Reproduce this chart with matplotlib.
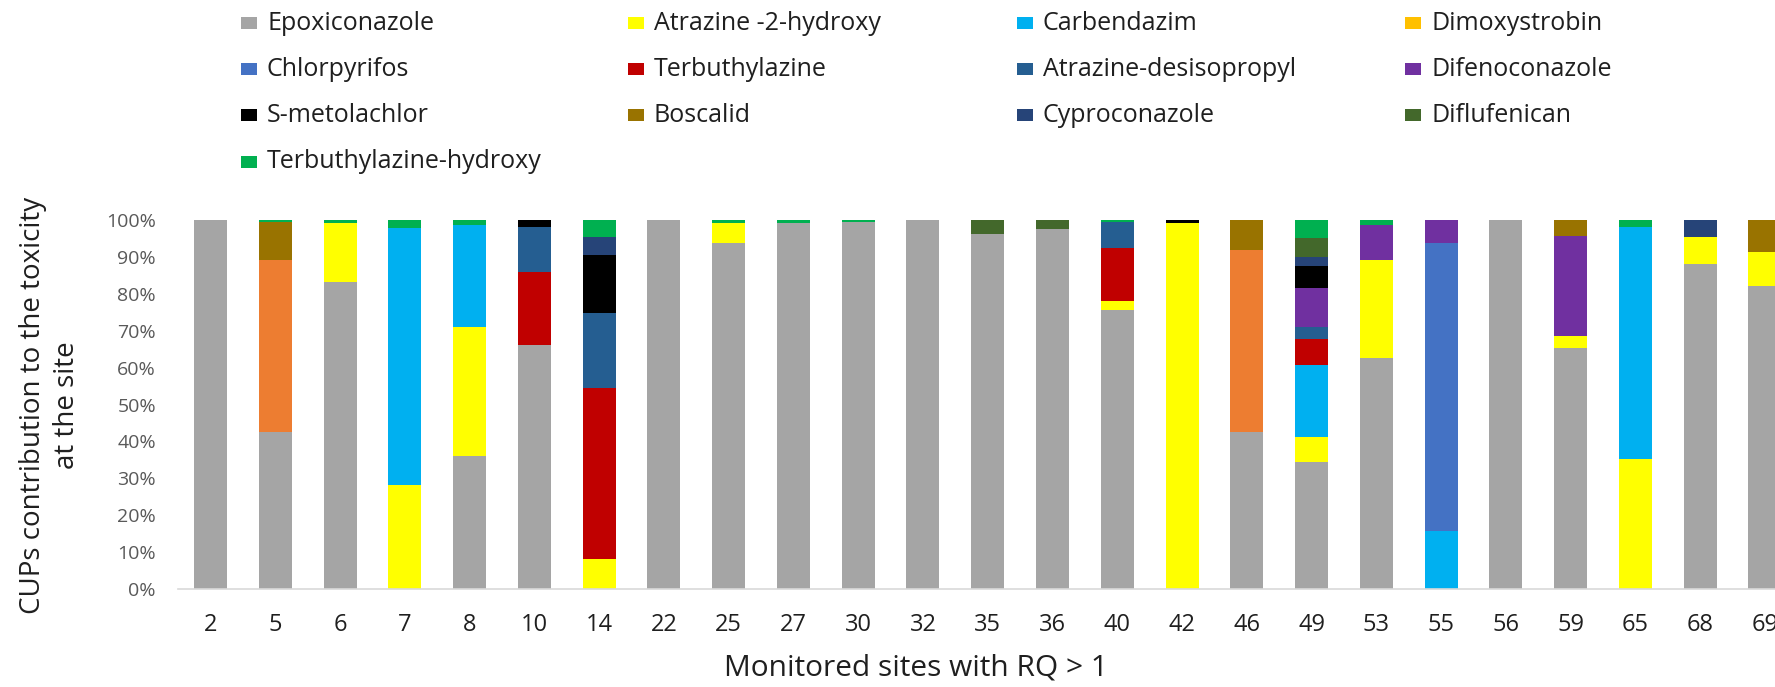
import matplotlib
matplotlib.use("Agg")
import matplotlib.pyplot as plt
from matplotlib.patches import Rectangle
import numpy as np

W, H = 1775, 687

sites = ["2", "5", "6", "7", "8", "10", "14", "22", "25", "27", "30", "32", "35",
         "36", "40", "42", "46", "49", "53", "55", "56", "59", "65", "68", "69"]

# % contribution of each compound per site (bottom -> top, same order as legend)
epoxiconazole = [100, 42.5, 83.3, 0, 36.0, 66.1, 0, 100, 93.7, 99.3, 99.4, 100, 96.2,
                 97.6, 75.6, 0, 42.5, 34.4, 62.7, 0, 100, 65.3, 0, 88.1, 82.1]
atrazine_2_hydroxy = [0, 0, 15.8, 28.1, 35.0, 0, 8.0, 0, 5.4, 0, 0, 0, 0,
                      0, 2.4, 99.1, 0, 6.7, 26.4, 0, 0, 3.2, 35.3, 7.4, 9.1]
carbendazim = [0, 0, 0, 69.6, 27.6, 0, 0, 0, 0, 0, 0, 0, 0,
               0, 0, 0, 0, 19.7, 0, 15.7, 0, 0, 62.9, 0, 0]
dimoxystrobin = [0, 46.6, 0, 0, 0, 0, 0, 0, 0, 0, 0, 0, 0,
                 0, 0, 0, 49.3, 0, 0, 0, 0, 0, 0, 0, 0]
chlorpyrifos = [0, 0, 0, 0, 0, 0, 0, 0, 0, 0, 0, 0, 0,
                0, 0, 0, 0, 0, 0, 78.0, 0, 0, 0, 0, 0]
terbuthylazine = [0, 0, 0, 0, 0, 19.7, 46.6, 0, 0, 0, 0, 0, 0,
                  0, 14.5, 0, 0, 6.9, 0, 0, 0, 0, 0, 0, 0]
atrazine_desisopropyl = [0, 0, 0, 0, 0, 12.2, 20.3, 0, 0, 0, 0, 0, 0,
                         0, 7.0, 0, 0, 3.3, 0, 0, 0, 0, 0, 0, 0]
difenoconazole = [0, 0, 0, 0, 0, 0, 0, 0, 0, 0, 0, 0, 0,
                  0, 0, 0, 0, 10.7, 9.5, 6.3, 0, 27.2, 0, 0, 0]
s_metolachlor = [0, 0, 0, 0, 0, 2.0, 15.6, 0, 0, 0, 0, 0, 0,
                 0, 0, 0.9, 0, 5.8, 0, 0, 0, 0, 0, 0, 0]
boscalid = [0, 10.3, 0, 0, 0, 0, 0, 0, 0, 0, 0, 0, 0,
            0, 0, 0, 8.2, 0, 0, 0, 0, 4.3, 0, 0, 8.8]
cyproconazole = [0, 0, 0, 0, 0, 0, 5.0, 0, 0, 0, 0, 0, 0,
                 0, 0, 0, 0, 2.5, 0, 0, 0, 0, 0, 4.5, 0]
diflufenican = [0, 0, 0, 0, 0, 0, 0, 0, 0, 0, 0, 0, 3.8,
                2.4, 0, 0, 0, 5.2, 0, 0, 0, 0, 0, 0, 0]
terbuthylazine_hydroxy = [0, 0.6, 0.9, 2.3, 1.4, 0, 4.5, 0, 0.9, 0.7, 0.6, 0, 0,
                          0, 0.5, 0, 0, 4.8, 1.4, 0, 0, 0, 1.8, 0, 0]

names = ["Epoxiconazole", "Atrazine -2-hydroxy", "Carbendazim", "Dimoxystrobin",
         "Chlorpyrifos", "Terbuthylazine", "Atrazine-desisopropyl", "Difenoconazole",
         "S-metolachlor", "Boscalid", "Cyproconazole", "Diflufenican",
         "Terbuthylazine-hydroxy"]
series = [epoxiconazole, atrazine_2_hydroxy, carbendazim, dimoxystrobin,
          chlorpyrifos, terbuthylazine, atrazine_desisopropyl, difenoconazole,
          s_metolachlor, boscalid, cyproconazole, diflufenican,
          terbuthylazine_hydroxy]
bar_colors = ["#A5A5A5", "#FFFF00", "#00B0F0", "#ED7D31", "#4472C4", "#C00000",
              "#255E91", "#7030A0", "#000000", "#997300", "#264478", "#43682B",
              "#00B050"]
# legend swatch for Dimoxystrobin is gold in the original figure
legend_colors = list(bar_colors)
legend_colors[3] = "#FFC000"

plt.rcParams["font.family"] = ["Open Sans", "DejaVu Sans"]

fig = plt.figure(figsize=(W / 100, H / 100), dpi=100)
ax_left, ax_right, ax_top, ax_bottom = 178.1, 1797.4, 220.0, 589.0
ax = fig.add_axes([ax_left / W, 1 - ax_bottom / H,
                   (ax_right - ax_left) / W, (ax_bottom - ax_top) / H])

x = np.arange(len(sites))
bottom = np.zeros(len(sites))
for name, vals, col in zip(names, series, bar_colors):
    vals = np.array(vals, dtype=float)
    ax.bar(x, vals, width=0.51, bottom=bottom, color=col, linewidth=0, label=name)
    bottom += vals

ax.set_xlim(-0.5, len(sites) - 0.5)
ax.set_ylim(0, 100)
ax.set_yticks(np.arange(0, 101, 10))
ax.set_yticklabels([f"{v}%" for v in range(0, 101, 10)])
ax.set_xticks(x)
ax.set_xticklabels(sites)
ax.tick_params(axis="y", length=0, pad=16, labelsize=14, labelcolor="#595959")
ax.tick_params(axis="x", length=0, pad=17, labelsize=17, labelcolor="#1f1f1f")
for s in ["top", "right", "left"]:
    ax.spines[s].set_visible(False)
ax.spines["bottom"].set_color("#D9D9D9")
ax.spines["bottom"].set_linewidth(1.2)

fig.text(916 / W, 1 - 668 / H, "Monitored sites with RQ > 1", ha="center",
         va="center", fontsize=21.5, color="#1f1f1f")
fig.text(50 / W, 1 - 405 / H, "CUPs contribution to the toxicity\nat the site",
         rotation=90, ha="center", va="center", multialignment="center",
         fontsize=20, linespacing=1.3, color="#1f1f1f")

# legend, laid out row by row in four columns like the original
col_x = [241, 628, 1017, 1405]
row_y = [23, 69, 115, 162]
for i, (name, col) in enumerate(zip(names, legend_colors)):
    cx = col_x[i % 4]
    cy = row_y[i // 4]
    fig.add_artist(Rectangle((cx / W, 1 - (cy + 6) / H), 16 / W, 12 / H,
                             transform=fig.transFigure, color=col, lw=0))
    fig.text((cx + 26) / W, 1 - cy / H, name, ha="left", va="center",
             fontsize=18, color="#1f1f1f")

fig.savefig("out.png", dpi=100)
